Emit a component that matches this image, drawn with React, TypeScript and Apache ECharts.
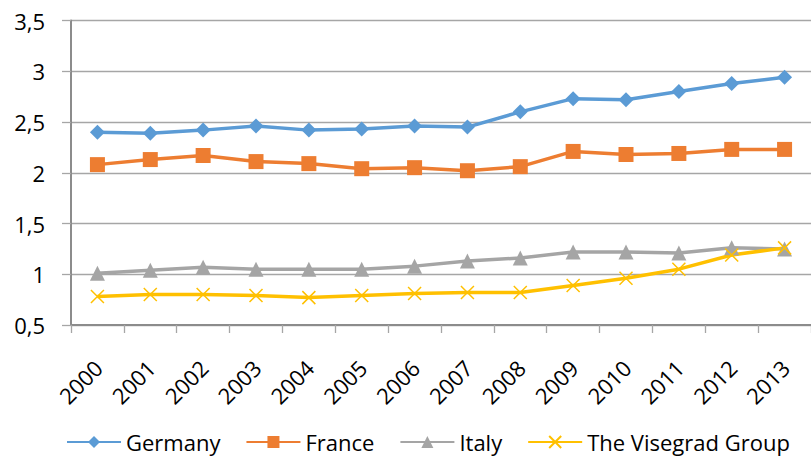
import React, { useEffect, useRef } from "react";
import * as echarts from "echarts";

const years = ["2000", "2001", "2002", "2003", "2004", "2005", "2006", "2007", "2008", "2009", "2010", "2011", "2012", "2013"];
const germany = [2.40, 2.39, 2.42, 2.46, 2.42, 2.43, 2.46, 2.45, 2.60, 2.73, 2.72, 2.80, 2.88, 2.94];
const france = [2.08, 2.13, 2.17, 2.11, 2.09, 2.04, 2.05, 2.02, 2.06, 2.21, 2.18, 2.19, 2.23, 2.23];
const italy = [1.01, 1.04, 1.07, 1.05, 1.05, 1.05, 1.08, 1.13, 1.16, 1.22, 1.22, 1.21, 1.26, 1.25];
const visegrad = [0.78, 0.80, 0.80, 0.79, 0.77, 0.79, 0.81, 0.82, 0.82, 0.89, 0.96, 1.05, 1.19, 1.26];

const FONT = "'Open Sans', sans-serif";
const CROSS = "path://M0,0L10,10M10,0L0,10";

export default function App() {
  const ref = useRef<HTMLDivElement>(null);
  useEffect(() => {
    if (!ref.current) return;
    const chart = echarts.init(ref.current, undefined, { renderer: "svg" });
    const mk = (name: string, data: number[], color: string, symbol: string, size: number, extra: any = {}) => ({
      name,
      type: "line",
      data,
      symbol,
      symbolSize: size,
      color,
      lineStyle: { color, width: 3.5 },
      itemStyle: { color, ...extra },
      emphasis: { disabled: true },
    });
    chart.setOption({
      animation: false,
      textStyle: { fontFamily: FONT },
      grid: { left: 71, right: -9, top: 20.5, bottom: 132, containLabel: false },
      legend: {
        left: 61,
        top: 426,
        itemWidth: 54,
        itemHeight: 15,
        itemGap: 25,
        textStyle: { fontFamily: FONT, fontSize: 22, color: "#000" },
        data: ["Germany", "France", "Italy", "The Visegrad Group"],
      },
      xAxis: {
        type: "category",
        data: years,
        boundaryGap: true,
        axisLine: { lineStyle: { color: "#8c8c8c", width: 2 } },
        axisTick: { show: true, length: 8, lineStyle: { color: "#a6a6a6", width: 1.3 }, alignWithLabel: false },
        axisLabel: {
          interval: 0,
          rotate: 45,
          align: "right",
          verticalAlign: "top",
          margin: 24,
          padding: [0, 10, 0, 0],
          fontFamily: FONT,
          fontSize: 22,
          color: "#000",
        },
        splitLine: { show: false },
      },
      yAxis: {
        type: "value",
        min: 0.5,
        max: 3.5,
        interval: 0.5,
        axisLine: { show: true, lineStyle: { color: "#8c8c8c", width: 2 } },
        axisTick: { show: true, length: 9, lineStyle: { color: "#a6a6a6", width: 1.3 } },
        axisLabel: {
          margin: 26,
          fontFamily: FONT,
          fontSize: 22,
          color: "#000",
          formatter: (v: number) => String(v).replace(".", ","),
        },
        splitLine: { show: true, lineStyle: { color: "#a6a6a6", width: 1.3 } },
      },
      series: [
        mk("Germany", germany, "#5B9BD5", "diamond", 15),
        mk("France", france, "#ED7D31", "rect", 15),
        mk("Italy", italy, "#A5A5A5", "triangle", 15),
        mk("The Visegrad Group", visegrad, "#FFC000", CROSS, 13, { borderColor: "#FFC000", borderWidth: 1.5 }),
      ],
    });
    return () => chart.dispose();
  }, []);
  return <div ref={ref} style={{ width: 811, height: 457, position: "absolute", left: 0, top: 0 }} />;
}
